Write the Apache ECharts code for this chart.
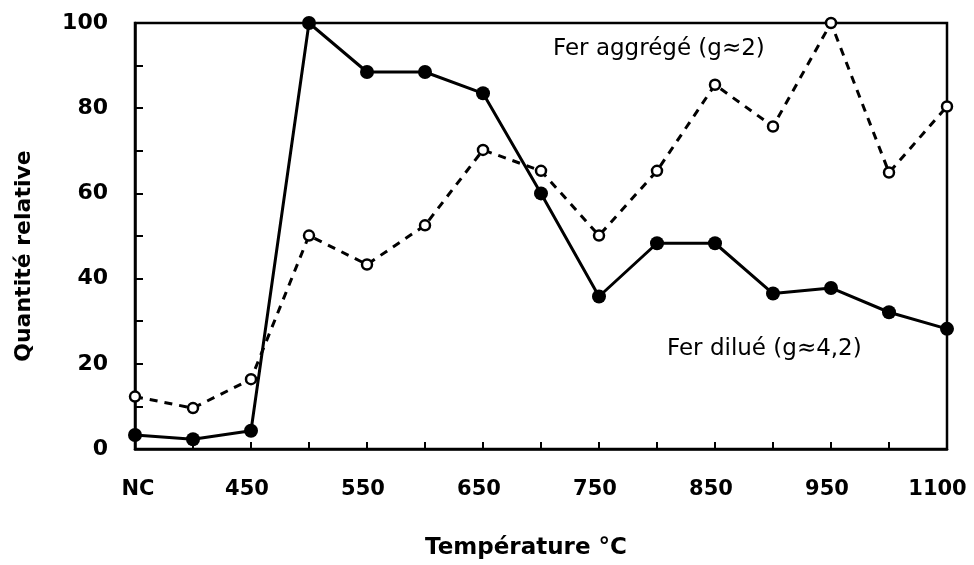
<!DOCTYPE html>
<html>
<head>
<meta charset="utf-8">
<script src="https://cdn.jsdelivr.net/npm/echarts@6/dist/echarts.min.js"></script>
<style>
html,body{margin:0;padding:0;background:#fff;}
#chart{width:974px;height:565px;}
</style>
</head>
<body>
<div id="chart"></div>
<script>
const categories = ['NC','400','450','500','550','600','650','700','750','800','850','900','950','1000','1100'];
const ferDilue   = [3.3, 2.3, 4.3, 100, 88.5, 88.5, 83.5, 60, 35.8, 48.3, 48.3, 36.5, 37.8, 32.1, 28.2];
const ferAggrege = [12.3, 9.6, 16.4, 50.1, 43.3, 52.5, 70.2, 65.3, 50.1, 65.3, 85.5, 75.7, 100, 64.9, 80.4];
const yTickLabels = [0, 20, 40, 60, 80, 100];

const FONT = '"DejaVu Sans", Verdana, sans-serif';
const labelFont = {fontFamily: FONT, fontSize: 21, color: '#000', fontWeight: 'bold'};
const chart = echarts.init(document.getElementById('chart'), null, {renderer: 'canvas'});
chart.setOption({
  animation: false,
  backgroundColor: '#fff',
  grid: {left: 135, right: 27, top: 23, bottom: 116, outerBoundsMode: 'none', containLabel: false,
         show: true, borderColor: '#000', borderWidth: 2.5, backgroundColor: 'transparent'},
  xAxis: {
    type: 'category',
    data: categories,
    boundaryGap: false,
    name: 'Température °C',
    nameLocation: 'middle',
    nameGap: 88,
    nameTextStyle: {fontFamily: FONT, fontWeight: 'bold', fontSize: 23, color: '#000', padding: [0, 30, 0, 0]},
    axisLine: {lineStyle: {color: '#000', width: 2.5}},
    axisTick: {show: true, inside: true, length: 7, interval: 0, lineStyle: {color: '#000', width: 2}},
    axisLabel: Object.assign({
      interval: 1, margin: 30, hideOverlap: false, padding: [0, 8, 0, 0],
      formatter: function (v) {
        if (v === '1100') return '{last|' + v + '}';
        if (v === 'NC') return '{first|' + v + '}';
        return v;
      },
      rich: {
        last: Object.assign({padding: [0, 11, 0, 0]}, labelFont),
        first: Object.assign({padding: [0, 0, 0, 14]}, labelFont)
      }
    }, labelFont),
    splitLine: {show: false}
  },
  yAxis: {
    type: 'value',
    min: 0, max: 100, interval: 10,
    name: 'Quantité relative',
    nameLocation: 'middle',
    nameGap: 100,
    nameRotate: 90,
    nameTextStyle: {fontFamily: FONT, fontWeight: 'bold', fontSize: 22, color: '#000', padding: [0, 40, 0, 0]},
    axisLine: {show: true, lineStyle: {color: '#000', width: 2.5}},
    axisTick: {show: true, inside: true, length: 8, lineStyle: {color: '#000', width: 2}},
    axisLabel: {
      margin: 27, fontFamily: FONT, fontSize: 22, color: '#000', fontWeight: 'bold',
      formatter: function (v) { return yTickLabels.indexOf(v) >= 0 ? String(v) : ''; }
    },
    splitLine: {show: false}
  },
  series: [
    {
      name: 'Fer dilué (g≈4,2)',
      type: 'line',
      data: ferDilue,
      symbol: 'circle',
      symbolSize: 14,
      lineStyle: {color: '#000', width: 3},
      itemStyle: {color: '#000', borderColor: '#000', borderWidth: 0},
      z: 3
    },
    {
      name: 'Fer aggrégé (g≈2)',
      type: 'line',
      data: ferAggrege,
      symbol: 'circle',
      symbolSize: 10,
      lineStyle: {color: '#000', width: 3, type: [8, 7]},
      itemStyle: {color: '#fff', borderColor: '#000', borderWidth: 2.5},
      z: 4
    }
  ],
  graphic: [
    {type: 'text', left: 553, top: 38, style: {text: 'Fer aggrégé (g≈2)', fontFamily: FONT, fontSize: 23, fill: '#000'}},
    {type: 'text', left: 667, top: 338, style: {text: 'Fer dilué (g≈4,2)', fontFamily: FONT, fontSize: 23, fill: '#000'}}
  ]
});
</script>
</body>
</html>
